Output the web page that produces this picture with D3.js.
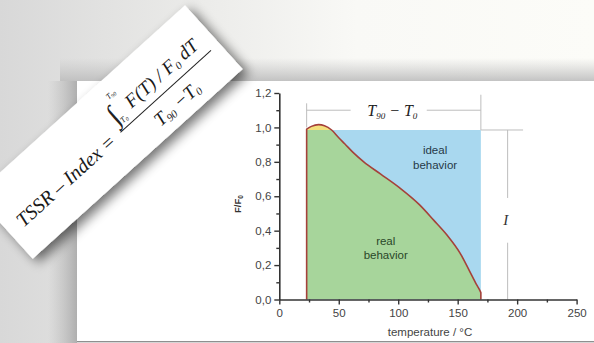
<!DOCTYPE html>
<html><head><meta charset="utf-8">
<script src="https://cdn.jsdelivr.net/npm/d3@7/dist/d3.min.js"></script>
<style>html,body{margin:0;padding:0;background:#fff;overflow:hidden}</style>
</head><body><svg id="c" width="594" height="343"></svg>
<script>
// ---- data ----
const temperature = [23, 27, 33, 38, 44, 50, 55, 62, 71, 85, 101, 118, 130, 141, 152, 160, 166, 168.5, 169.5];
const ratio       = [0.99, 1.006, 1.016, 1.01, 0.985, 0.94, 0.905, 0.855, 0.80, 0.73, 0.65, 0.55, 0.46, 0.375, 0.27, 0.165, 0.085, 0.055, 0.04];
const xTicks = [0, 50, 100, 150, 200, 250];
const xMinor = [25, 75, 125, 175, 225];
const yTicks = [0, 0.2, 0.4, 0.6, 0.8, 1.0, 1.2];
const yMinor = [0.1, 0.3, 0.5, 0.7, 0.9, 1.1];
const T0 = 23, T90 = 169.5, idealLevel = 0.985;
const bracketLevel = 1.10, bracketX = 192, bracketEnd = 205;
const labels = {xTitle: "temperature / °C", ideal: ["ideal", "behavior"], real: ["real", "behavior"]};

const svg = d3.select("#c");
const defs = svg.append("defs");

// background
const bg = defs.append("linearGradient").attr("id","bg").attr("x1","0").attr("x2","1").attr("y1","0").attr("y2","0");
bg.append("stop").attr("offset","0").attr("stop-color","#d8d8d8");
bg.append("stop").attr("offset","0.35").attr("stop-color","#ececea");
bg.append("stop").attr("offset","0.6").attr("stop-color","#f9f9f6");
bg.append("stop").attr("offset","1").attr("stop-color","#fcfcf8");
svg.append("rect").attr("width",594).attr("height",343).attr("fill","url(#bg)");

const topSh = defs.append("linearGradient").attr("id","topSh").attr("x1","0").attr("x2","0").attr("y1","0").attr("y2","1");
topSh.append("stop").attr("offset","0").attr("stop-color","#c4c4c4").attr("stop-opacity",0);
topSh.append("stop").attr("offset","1").attr("stop-color","#bdbdbd").attr("stop-opacity",0.9);
svg.append("rect").attr("x",60).attr("y",58).attr("width",534).attr("height",23).attr("fill","url(#topSh)");
const leftSh = defs.append("linearGradient").attr("id","leftSh").attr("x1","0").attr("x2","1").attr("y1","0").attr("y2","0");
leftSh.append("stop").attr("offset","0").attr("stop-color","#bbb").attr("stop-opacity",0);
leftSh.append("stop").attr("offset","1").attr("stop-color","#a9a9a9").attr("stop-opacity",0.9);
svg.append("rect").attr("x",48).attr("y",81).attr("width",29).attr("height",262).attr("fill","url(#leftSh)");

// panel
svg.append("rect").attr("x",77).attr("y",81).attr("width",517).attr("height",260).attr("fill","#ffffff");
svg.append("line").attr("x1",77).attr("x2",594).attr("y1",341.5).attr("y2",341.5).attr("stroke","#8f8f8f");
svg.append("rect").attr("x",77).attr("y",342).attr("width",517).attr("height",1).attr("fill","#d5d5d5");

// scales
const x = d3.scaleLinear().domain([0, 250]).range([279.3, 576.6]);
const y = d3.scaleLinear().domain([0, 1.2]).range([299.5, 93]);

const pts = temperature.map((t, i) => [t, ratio[i]]);
const g = svg.append("g");

// ideal rectangle
g.append("rect").attr("x", x(T0)).attr("y", y(idealLevel))
  .attr("width", x(T90) - x(T0)).attr("height", y(0) - y(idealLevel)).attr("fill", "#a9d8ef");

const area = d3.area().x(d => x(d[0])).y0(y(0)).y1(d => y(d[1])).curve(d3.curveMonotoneX);
defs.append("clipPath").attr("id","below").append("rect")
  .attr("x", 0).attr("y", y(idealLevel)).attr("width", 594).attr("height", y(0) - y(idealLevel));
defs.append("clipPath").attr("id","above").append("rect")
  .attr("x", 0).attr("y", 0).attr("width", 594).attr("height", y(idealLevel));
g.append("path").attr("d", area(pts)).attr("fill", "#f3e07c").attr("clip-path","url(#above)");
g.append("path").attr("d", area(pts)).attr("fill", "#a7d59b").attr("clip-path","url(#below)");

// curve
const line = d3.line().x(d => x(d[0])).y(d => y(d[1])).curve(d3.curveMonotoneX);
const ls = line(pts);
const full = `M${x(T0)},${y(0)}L` + ls.slice(1) + `L${x(temperature[temperature.length-1])},${y(0)}`;
g.append("path").attr("d", full).attr("fill","none").attr("stroke","#a5413a").attr("stroke-width",1.6).attr("stroke-linejoin","round");

// annotation lines
const ann = g.append("g").attr("stroke","#bdbdbd").attr("stroke-width",1).attr("fill","none");
ann.append("line").attr("x1",x(T0)).attr("x2",x(T0)).attr("y1",y(1.14)).attr("y2",y(1.0));
ann.append("line").attr("x1",x(T90)).attr("x2",x(T90)).attr("y1",y(1.19)).attr("y2",y(idealLevel));
ann.append("line").attr("x1",x(T0)).attr("x2",x(60)).attr("y1",y(bracketLevel)).attr("y2",y(bracketLevel));
ann.append("line").attr("x1",x(124)).attr("x2",x(T90)).attr("y1",y(bracketLevel)).attr("y2",y(bracketLevel));
ann.append("line").attr("x1",x(T90)).attr("x2",x(bracketEnd)).attr("y1",y(idealLevel)).attr("y2",y(idealLevel));
ann.append("line").attr("x1",x(bracketX)).attr("x2",x(bracketX)).attr("y1",y(idealLevel)).attr("y2",y(0.59));
ann.append("line").attr("x1",x(bracketX)).attr("x2",x(bracketX)).attr("y1",y(0.33)).attr("y2",y(0));

const tt = g.append("text").attr("x", x(95)).attr("y", y(bracketLevel)).attr("dy","0.35em")
  .attr("text-anchor","middle").attr("font-family","'Liberation Serif', serif").attr("font-style","italic")
  .attr("font-size",16).attr("fill","#222");
tt.append("tspan").text("T");
tt.append("tspan").text("90").attr("font-size",9).attr("dy",3);
tt.append("tspan").text(" − T").attr("dy",-3);
tt.append("tspan").text("0").attr("font-size",9).attr("dy",3);

g.append("text").attr("x", x(bracketX) - 2).attr("y", y(0.465)).attr("dy","0.35em").attr("text-anchor","middle")
  .attr("font-family","'Liberation Serif', serif").attr("font-style","italic").attr("font-size",15).attr("fill","#333").text("I");

// area labels
const lab = (arr, tx, vals, col) => arr.forEach((s, i) => g.append("text").attr("x", x(tx)).attr("y", y(vals[i]))
  .attr("dy","0.35em").attr("text-anchor","middle").attr("font-family","'Liberation Sans', Arial, sans-serif")
  .attr("font-size",11.5).attr("fill",col).text(s));
lab(labels.ideal, 131, [0.869, 0.782], "#263848");
lab(labels.real, 89.5, [0.34, 0.259], "#2a4728");

// axes
const fmt = d => d.toFixed(1).replace(".", ",");
const style = (sel) => {
  sel.select(".domain").attr("stroke","#333").attr("stroke-width",1.6);
  sel.selectAll(".tick line").attr("stroke","#333").attr("stroke-width",1.4);
  sel.selectAll(".tick text").attr("fill","#444").attr("font-size",11.5).attr("font-family","'Liberation Sans', Arial, sans-serif");
};
svg.append("g").attr("transform",`translate(0,${y(0)})`)
  .call(d3.axisBottom(x).tickValues(xMinor).tickSize(3).tickSizeOuter(0).tickFormat(""))
  .call(style).call(s => s.select(".domain").remove());
svg.append("g").attr("transform",`translate(${x(0)},0)`)
  .call(d3.axisLeft(y).tickValues(yMinor).tickSize(3).tickSizeOuter(0).tickFormat(""))
  .call(style).call(s => s.select(".domain").remove());
svg.append("g").attr("transform",`translate(0,${y(0)})`)
  .call(d3.axisBottom(x).tickValues(xTicks).tickSize(5).tickPadding(4).tickSizeOuter(0))
  .call(style);
svg.append("g").attr("transform",`translate(${x(0)},0)`)
  .call(d3.axisLeft(y).tickValues(yTicks).tickFormat(fmt).tickSize(5).tickPadding(3).tickSizeOuter(0))
  .call(style);

svg.append("text").attr("x", 430).attr("y", 332).attr("dy","0.35em").attr("text-anchor","middle")
  .attr("font-family","'Liberation Sans', Arial, sans-serif").attr("font-size",11.5).attr("fill","#444").text(labels.xTitle);
const yt = svg.append("text").attr("transform","translate(241,204) rotate(-90)").attr("text-anchor","middle")
  .attr("font-family","'Liberation Sans', Arial, sans-serif").attr("font-size",9.5).attr("font-weight","bold").attr("fill","#333");
yt.append("tspan").text("F/F");
yt.append("tspan").text("0").attr("font-size",6.5).attr("dy",2);

// formula card
const f = defs.append("filter").attr("id","sh").attr("x","-20%").attr("y","-30%").attr("width","140%").attr("height","180%");
f.append("feGaussianBlur").attr("in","SourceAlpha").attr("stdDeviation",6);
f.append("feOffset").attr("dx",2).attr("dy",7).attr("result","b");
f.append("feComponentTransfer").attr("in","b").attr("result","c").append("feFuncA").attr("type","linear").attr("slope",0.55);
const fm = f.append("feMerge"); fm.append("feMergeNode").attr("in","c"); fm.append("feMergeNode").attr("in","SourceGraphic");

const card = svg.append("g").attr("transform","translate(-25,195) rotate(-42.1)");
card.append("rect").attr("width",283).attr("height",86).attr("fill","#fff").attr("filter","url(#sh)");
const serif = "'Liberation Serif', 'Times New Roman', serif";
card.append("text").attr("x",14).attr("y",57).attr("font-family",serif).attr("font-style","italic").attr("font-size",20).attr("fill","#1a1a1a").text("TSSR – Index =");
card.append("line").attr("x1",150).attr("x2",272).attr("y1",51).attr("y2",51).attr("stroke","#222").attr("stroke-width",1);
card.append("text").attr("x",152).attr("y",43).attr("font-family",serif).attr("font-size",28).attr("fill","#222").text("∫");
const lim = (t, s, xx, yy) => { const e = card.append("text").attr("x",xx).attr("y",yy).attr("font-family",serif).attr("font-style","italic").attr("font-size",8).attr("fill","#222"); e.append("tspan").text(t); e.append("tspan").text(s).attr("font-size",5.5).attr("dy",1.5); };
lim("T","90",163,19);
lim("T","0",158,46);
const num = card.append("text").attr("x",174).attr("y",41).attr("font-family",serif).attr("font-style","italic").attr("font-size",19).attr("fill","#1a1a1a");
num.append("tspan").text("F(T) / F");
num.append("tspan").text("0").attr("font-size",11).attr("dy",3);
num.append("tspan").text(" dT").attr("dy",-3);
const den = card.append("text").attr("x",211).attr("y",74).attr("text-anchor","middle").attr("font-family",serif).attr("font-style","italic").attr("font-size",19).attr("fill","#1a1a1a");
den.append("tspan").text("T");
den.append("tspan").text("90").attr("font-size",11).attr("dy",3);
den.append("tspan").text(" −T").attr("dy",-3);
den.append("tspan").text("0").attr("font-size",11).attr("dy",3);
</script></body></html>
